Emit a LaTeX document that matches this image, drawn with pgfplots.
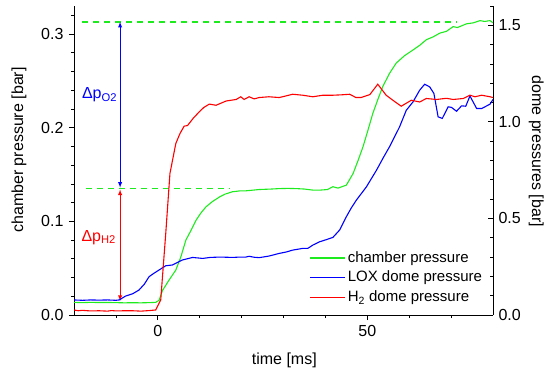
\documentclass[border=0pt]{standalone}
\usepackage{fontspec}
\setmainfont{Liberation Sans}
\usepackage{pgfplots}
\pgfplotsset{compat=1.18}
\definecolor{cgreen}{RGB}{30,235,30}
\definecolor{cblue}{RGB}{0,0,255}
\definecolor{cred}{RGB}{255,0,0}
\newcommand{\lf}{\fontsize{15bp}{17bp}\selectfont}
\newcommand{\tf}{\fontsize{16bp}{18bp}\selectfont}
\begin{document}
\tf
\begin{tikzpicture}
\useasboundingbox (-74bp,-56bp) rectangle (471bp,315bp);
\begin{axis}[
  scale only axis, width=419bp, height=309bp,
  xmin=-20, xmax=80, ymin=0, ymax=0.33,
  axis x line*=bottom, axis y line*=left,
  tick align=outside,
  major tick length=5bp, minor tick length=3bp,
  xtick={0,50}, minor xtick={-10,10,20,30,40,60,70},
  ytick={0,0.1,0.2,0.3}, minor ytick={0.02,0.04,0.06,0.08,0.12,0.14,0.16,0.18,0.22,0.24,0.26,0.28,0.32},
  yticklabel style={/pgf/number format/.cd,fixed,fixed zerofill,precision=1,assume math mode=true},
  xticklabel style={/pgf/number format/assume math mode=true},
  tick label style={font=\tf},
  label style={font=\tf},
  xlabel={time [ms]}, ylabel={chamber pressure [bar]},
  xlabel style={at={(axis description cs:0.502,-0.146)},anchor=center},
  ylabel style={at={(axis description cs:-0.131,0.534)},anchor=center},
  axis line style={black, line width=0.8pt}, tick style={black, line width=0.8pt},
  clip=false,
]
\addplot[cgreen, line width=1.3pt, dash pattern=on 6bp off 5bp] coordinates {(-18,0.313) (71.3,0.313)};
\addplot[cgreen, line width=1.3pt, dash pattern=on 6bp off 5bp] coordinates {(-17.2,0.1348) (17.1,0.1348)};
\addplot[cgreen, line width=1.1pt] coordinates {
(-20,0.0135) (-18,0.0132) (-16,0.0135) (-14,0.0133) (-12,0.0134) (-10,0.0132) (-8,0.0130) (-6,0.0131) (-4,0.0130) (-2,0.0132) (-0.5,0.0135)
(0.3,0.0157) (1.1,0.026) (2.5,0.036) (4.3,0.048) (5.5,0.062) (6.7,0.080) (8,0.091) (9.1,0.101) (10.3,0.109) (11.5,0.1155) (13,0.121)
(14.7,0.126) (16,0.129) (17.8,0.1316) (19.5,0.1325) (21,0.1326) (24.2,0.134) (27,0.1345) (29,0.135) (31,0.1352) (33,0.135) (35,0.1345)
(37,0.1334) (38.8,0.1334) (40.5,0.134) (41.8,0.137) (43,0.1355) (45,0.1387) (46.6,0.151) (47.8,0.165) (49,0.18) (50.2,0.198) (51.3,0.215)
(52.5,0.23) (53.7,0.244) (55.3,0.258) (56.9,0.269) (58.9,0.277) (60.9,0.283) (62.5,0.288) (64.1,0.294) (65.7,0.297) (67.3,0.301)
(68.9,0.303) (70.5,0.308) (71.5,0.307) (73.7,0.311) (75.3,0.312) (76.9,0.3144) (78,0.3135) (79.3,0.3144) (80,0.312)};
\addplot[cblue, line width=0.9pt, <->, >=latex] coordinates {(-9,0.136) (-9,0.313)};
\addplot[cred, line width=0.9pt, <->, >=latex] coordinates {(-9,0.015) (-9,0.134)};
\node[cblue, font=\tf] at (axis cs:-13.9,0.235) {Δp\textsubscript{O2}};
\node[cred, font=\tf] at (axis cs:-14.1,0.083) {Δp\textsubscript{H2}};
\end{axis}
\begin{axis}[
  scale only axis, width=419bp, height=309bp,
  xmin=-20, xmax=80, ymin=0, ymax=1.6,
  axis y line*=right, axis x line=none,
  ytick pos=right, tick align=inside,
  major tick length=5bp, minor tick length=3bp,
  ytick={0,0.5,1.0,1.5}, minor ytick={0.1,0.2,0.3,0.4,0.6,0.7,0.8,0.9,1.1,1.2,1.3,1.4,1.6},
  yticklabel style={/pgf/number format/.cd,fixed,fixed zerofill,precision=1,assume math mode=true},
  tick label style={font=\tf},
  label style={font=\tf},
  ylabel={dome pressures [bar]},
  ylabel style={at={(axis description cs:1.103,0.53)},anchor=center,rotate=180},
  axis line style={black, line width=0.8pt}, tick style={black, line width=0.8pt},
  legend style={draw=none, fill=none, at={(axis description cs:0.562,0.213)}, anchor=north west,
    font=\lf, nodes={font=\lf}, row sep=2.5bp, inner sep=0pt},
  legend cell align=left,
  legend image code/.code={\draw[#1] (0bp,0bp) -- (35bp,0bp);},
]
\addlegendimage{cgreen, line width=1.1pt}
\addlegendentry{\lf chamber pressure}
\addplot[cblue, line width=1.1pt] coordinates {
(-20,0.078) (-18,0.076) (-16,0.078) (-14,0.077) (-12,0.078) (-10,0.076) (-9.2,0.078) (-7.7,0.098) (-6,0.11) (-4.5,0.129) (-3.2,0.16)
(-2.1,0.198) (-1,0.215) (0.3,0.233) (1.9,0.255) (3.5,0.259) (4.5,0.27) (5.9,0.285) (8.3,0.298) (10.7,0.293) (12.5,0.298) (14.7,0.300)
(16.5,0.299) (17.9,0.298) (19.5,0.30) (21,0.30) (21.8,0.304) (23,0.299) (24.2,0.297) (26.5,0.305) (29,0.319) (30.6,0.326) (32.2,0.336)
(34.6,0.345) (35.8,0.345) (37,0.362) (38.6,0.379) (40.2,0.39) (41.8,0.402) (43.4,0.44) (45,0.509) (46.2,0.555) (47.4,0.595) (49.8,0.664)
(52.2,0.75) (53.7,0.81) (55.3,0.871) (57.7,0.974) (59.3,1.06) (60.9,1.103) (62.5,1.164) (63.7,1.195) (64.9,1.181) (65.9,1.147)
(66.9,1.026) (67.9,1.018) (69.3,1.078) (70.1,1.075) (71.3,1.055) (72.5,1.083) (73.5,1.081) (74.5,1.134) (76.1,1.069) (77.3,1.069)
(79.3,1.092) (80,1.116)};
\addlegendentry{\lf LOX dome pressure}
\addplot[cred, line width=1.1pt] coordinates {
(-20,0.026) (-19,0.022) (-18,0.024) (-16,0.021) (-14,0.022) (-12,0.020) (-11,0.023) (-10,0.021) (-8,0.022) (-6,0.022) (-4,0.020)
(-2,0.023) (-0.5,0.026) (0.7,0.078) (1.9,0.423) (2.9,0.733) (4.3,0.888) (5.3,0.94) (6.3,0.978) (7.1,0.981) (8.5,1.02) (9.9,1.052)
(11,1.075) (12.3,1.092) (13.9,1.086) (16.3,1.108) (18.7,1.116) (19.8,1.13) (20.6,1.116) (21.8,1.13) (23,1.119) (24.2,1.126) (26.5,1.13)
(29,1.126) (32.2,1.143) (34.6,1.138) (37,1.13) (39.4,1.138) (41.8,1.138) (43.8,1.14) (45.8,1.143) (47.3,1.126) (48.5,1.126) (50.6,1.141)
(52.5,1.195) (54.5,1.138) (56.1,1.112) (58.1,1.081) (60.5,1.112) (62.5,1.103) (64.1,1.121) (66.5,1.116) (68.9,1.122) (70.5,1.116)
(72.9,1.121) (74.5,1.138) (75.7,1.13) (77.3,1.138) (79.3,1.13) (80,1.126)};
\addlegendentry{\lf H\textsubscript{2} dome pressure}
\end{axis}
\end{tikzpicture}
\end{document}
